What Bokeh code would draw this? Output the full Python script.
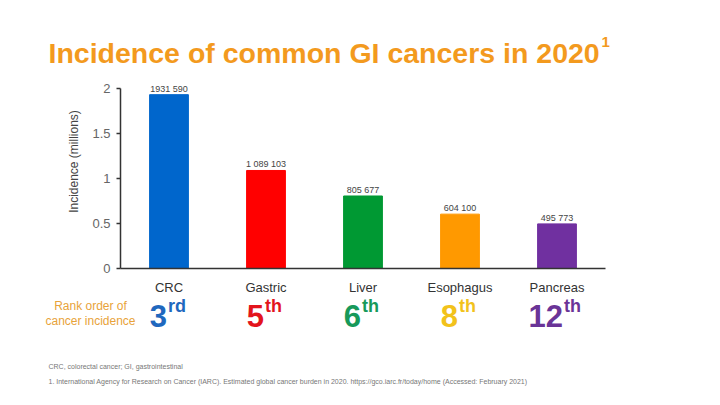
from bokeh.plotting import figure
from bokeh.models import Range1d, FixedTicker, Label, ColumnDataSource
from bokeh.core.properties import value
from bokeh.embed import file_html
from bokeh.resources import INLINE
import math

# ---- data ----
categories = ["CRC", "Gastric", "Liver", "Esophagus", "Pancreas"]
incidence_millions = [1.931590, 1.089103, 0.805677, 0.604100, 0.495773]
value_labels = ["1931 590", "1 089 103", "805 677", "604 100", "495 773"]
rank_numbers = ["3", "5", "6", "8", "12"]
rank_suffixes = ["rd", "th", "th", "th", "th"]
bar_colors = ["#0066CC", "#FF0000", "#009933", "#FF9900", "#7030A0"]
rank_colors = ["#1F68BE", "#E3141C", "#17995A", "#F2C21B", "#6A3497"]
y_ticks = [0, 0.5, 1, 1.5, 2]
y_tick_labels = ["0", "0.5", "1", "1.5", "2"]

FONT = "Liberation Sans"
W, H = 704, 389
PX_X = 97.0   # pixels per x unit
PX_Y = 90.0   # pixels per y unit
X0, Y0 = 120.0, 268.0  # pixel position of data origin


def dx(px):
    return (px - X0) / PX_X


def dy(py):
    return (Y0 - py) / PX_Y


p = figure(width=W, height=H, output_backend="svg", toolbar_location=None,
           x_range=Range1d(dx(0), dx(W)), y_range=Range1d(dy(H), dy(0)),
           min_border=0, min_border_left=0, min_border_right=0,
           min_border_top=0, min_border_bottom=0)
p.outline_line_color = None
p.grid.visible = False
p.background_fill_color = "white"

xs = [i + 0.5 for i in range(len(categories))]
src = ColumnDataSource(dict(x=xs, top=incidence_millions, color=bar_colors,
                            lab=value_labels,
                            ly=[v + 6 / PX_Y for v in incidence_millions]))
p.vbar(x="x", top="top", width=0.40, bottom=0, color="color", source=src)
p.text(x="x", y="ly", text="lab", source=src, text_align="center",
       text_baseline="alphabetic", text_font=value(FONT), text_font_size="9px",
       text_color="#444444")

# x axis
p.xaxis.fixed_location = 0
p.xaxis.bounds = (0, 5)
p.xaxis.ticker = FixedTicker(ticks=xs)
p.xaxis.major_label_overrides = {x: c for x, c in zip(xs, categories)}
p.xaxis.major_tick_line_color = None
p.xaxis.minor_tick_line_color = None
p.xaxis.major_tick_out = 0
p.xaxis.major_label_standoff = 11
p.xaxis.major_label_text_font = FONT
p.xaxis.major_label_text_font_size = "13px"
p.xaxis.major_label_text_color = "#333333"
p.xaxis.axis_line_color = "#333333"
p.xaxis.axis_line_width = 1.5

# y axis
p.yaxis.fixed_location = 0
p.yaxis.bounds = (0, 2)
p.yaxis.ticker = FixedTicker(ticks=y_ticks)
p.yaxis.major_label_overrides = {t: l for t, l in zip(y_ticks, y_tick_labels)}
p.yaxis.minor_tick_line_color = None
p.yaxis.major_tick_out = 4
p.yaxis.major_tick_in = 0
p.yaxis.major_tick_line_color = "#333333"
p.yaxis.major_tick_line_width = 1.5
p.yaxis.major_label_standoff = 6
p.yaxis.major_label_text_font = FONT
p.yaxis.major_label_text_font_size = "13px"
p.yaxis.major_label_text_color = "#666666"
p.yaxis.axis_line_color = "#333333"
p.yaxis.axis_line_width = 1.5

# y axis title
p.add_layout(Label(x=dx(73), y=dy(161), text="Incidence (millions)", angle=math.pi / 2,
                   text_align="center", text_baseline="middle", text_font=FONT,
                   text_font_size="12px", text_color="#444444"))

# Title
p.add_layout(Label(x=dx(48), y=dy(52), text="Incidence of common GI cancers in 2020",
                   text_align="left", text_baseline="alphabetic", text_font=FONT,
                   text_font_size="28.5px", text_font_style="bold", text_color="#F39A1E"))
p.add_layout(Label(x=dx(601), y=dy(41), text="1",
                   text_align="left", text_baseline="alphabetic", text_font=FONT,
                   text_font_size="15px", text_font_style="bold", text_color="#F39A1E"))

# Rank row
p.add_layout(Label(x=dx(90), y=dy(305), text="Rank order of", text_align="center",
                   text_baseline="middle", text_font=FONT, text_font_size="12px",
                   text_color="#E8A33A"))
p.add_layout(Label(x=dx(90), y=dy(320), text="cancer incidence", text_align="center",
                   text_baseline="middle", text_font=FONT, text_font_size="12px",
                   text_color="#E8A33A"))
for x, num, suf, col in zip(xs, rank_numbers, rank_suffixes, rank_colors):
    split = x + (8 * (len(num) - 1) - 2) / PX_X
    p.add_layout(Label(x=split, y=dy(315), text=num, text_align="right",
                       text_baseline="alphabetic", text_font=FONT, text_font_size="31px",
                       text_font_style="bold", text_color=col))
    p.add_layout(Label(x=split + 1 / PX_X, y=dy(305), text=suf, text_align="left",
                       text_baseline="alphabetic", text_font=FONT, text_font_size="18px",
                       text_font_style="bold", text_color=col))

# Footnotes
p.add_layout(Label(x=dx(48), y=dy(366), text="CRC, colorectal cancer; GI, gastrointestinal",
                   text_align="left", text_baseline="alphabetic", text_font=FONT,
                   text_font_size="7px", text_color="#777777"))
p.add_layout(Label(x=dx(48), y=dy(381),
                   text="1. International Agency for Research on Cancer (IARC). Estimated global cancer burden in 2020. https://gco.iarc.fr/today/home (Accessed: February 2021)",
                   text_align="left", text_baseline="alphabetic", text_font=FONT,
                   text_font_size="7px", text_color="#777777"))

open("out.html", "w").write(file_html(p, INLINE))
